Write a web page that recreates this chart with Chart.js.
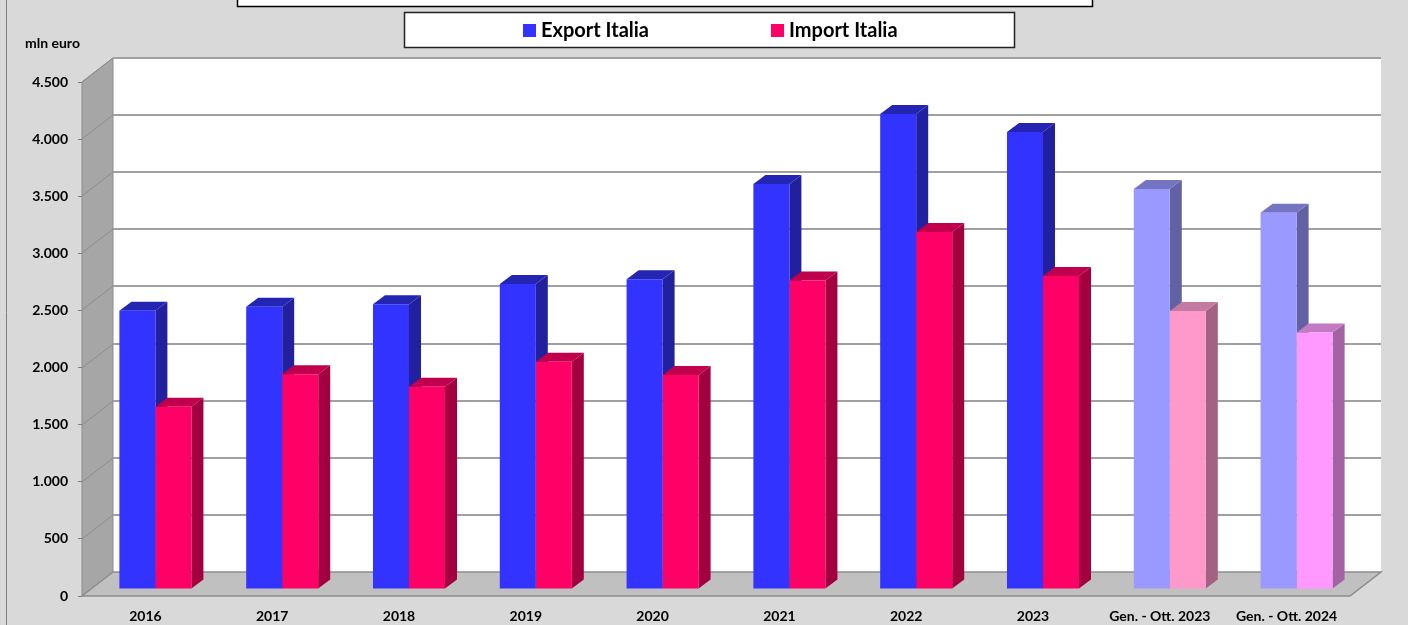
<!DOCTYPE html>
<html>
<head>
<meta charset="utf-8">
<script src="https://cdn.jsdelivr.net/npm/chart.js@4/dist/chart.umd.min.js"></script>
<style>
  html, body { margin: 0; padding: 0; background: #d9d9d9; }
  #wrap { width: 1408px; height: 625px; }
</style>
</head>
<body>
<div id="wrap"><canvas id="tradeChart" width="1408" height="625"></canvas></div>
<script>
// data (mln euro)
const categories = ["2016", "2017", "2018", "2019", "2020", "2021", "2022", "2023", "Gen. - Ott. 2023", "Gen. - Ott. 2024"];
const exportItalia = [2437, 2472, 2493, 2671, 2712, 3546, 4159, 4002, 3503, 3295];
const importItalia = [1596, 1880, 1771, 1990, 1874, 2700, 3126, 2741, 2434, 2245];
const yTickValues = [0, 500, 1000, 1500, 2000, 2500, 3000, 3500, 4000, 4500];
const unitLabel = "mln euro";

// colours: front / side / top
const exportFront = ["#3333ff", "#3333ff", "#3333ff", "#3333ff", "#3333ff", "#3333ff", "#3333ff", "#3333ff", "#9999ff", "#9999ff"];
const exportSide = ["#2121a0", "#2121a0", "#2121a0", "#2121a0", "#2121a0", "#2121a0", "#2121a0", "#2121a0", "#6161a3", "#6161a3"];
const exportTop = ["#2525b3", "#2525b3", "#2525b3", "#2525b3", "#2525b3", "#2525b3", "#2525b3", "#2525b3", "#7474c2", "#7474c2"];
const importFront = ["#ff0066", "#ff0066", "#ff0066", "#ff0066", "#ff0066", "#ff0066", "#ff0066", "#ff0066", "#ff99cc", "#ff99ff"];
const importSide = ["#a3003f", "#a3003f", "#a3003f", "#a3003f", "#a3003f", "#a3003f", "#a3003f", "#a3003f", "#a36282", "#a362a3"];
const importTop = ["#c0004d", "#c0004d", "#c0004d", "#c0004d", "#c0004d", "#c0004d", "#c0004d", "#c0004d", "#c27aa0", "#c27ac2"];

const WALL_DX = 31, WALL_DY = 24;   // depth of the 3d box
const BAR_DX = 10, BAR_DY = 7;      // bar front face offset
const BAR_DEPTH_X = 12, BAR_DEPTH_Y = 9;

Chart.defaults.font.family = "Lato, 'Open Sans', sans-serif";
Chart.defaults.color = "#000";

function fmt(v) {
    return String(v).replace(/\B(?=(\d{3})+(?!\d))/g, ".");
}

function poly(ctx, pts, fill, stroke, lw) {
    ctx.beginPath();
    ctx.moveTo(pts[0][0], pts[0][1]);
    for (let i = 1; i < pts.length; i++) ctx.lineTo(pts[i][0], pts[i][1]);
    ctx.closePath();
    if (fill) { ctx.fillStyle = fill; ctx.fill(); }
    if (stroke) { ctx.strokeStyle = stroke; ctx.lineWidth = lw || 1; ctx.stroke(); }
}

const frame3d = {
    id: "frame3d",
    beforeDraw(chart) {
        const { ctx, chartArea: a, scales: { y } } = chart;
        ctx.save();
        ctx.fillStyle = "#d9d9d9";
        ctx.fillRect(0, 0, chart.width, chart.height);

        // outer border on the left
        ctx.strokeStyle = "#7f7f7f";
        ctx.lineWidth = 1;
        ctx.beginPath();
        ctx.moveTo(6.5, 0);
        ctx.lineTo(6.5, chart.height);
        ctx.stroke();

        // back wall
        ctx.fillStyle = "#ffffff";
        ctx.fillRect(a.left + WALL_DX, a.top - WALL_DY, a.right - a.left, a.bottom - a.top);

        // left wall
        poly(ctx, [[a.left, a.top], [a.left + WALL_DX, a.top - WALL_DY], [a.left + WALL_DX, a.bottom - WALL_DY], [a.left, a.bottom]], "#a6a6a6", "#8c8c8c", 1);

        // gridlines on back wall and left wall
        yTickValues.forEach((v) => {
            if (v === 0) return;
            const py = Math.round(y.getPixelForValue(v));
            ctx.strokeStyle = "#a0a0a0";
            ctx.lineWidth = 2;
            ctx.beginPath();
            ctx.moveTo(a.left + WALL_DX, py - WALL_DY);
            ctx.lineTo(a.right + WALL_DX, py - WALL_DY);
            ctx.stroke();
            ctx.strokeStyle = "#8c8c8c";
            ctx.lineWidth = 1;
            ctx.beginPath();
            ctx.moveTo(a.left, py);
            ctx.lineTo(a.left + WALL_DX, py - WALL_DY);
            ctx.stroke();
        });

        // floor
        poly(ctx, [[a.left, a.bottom], [a.left + WALL_DX, a.bottom - WALL_DY], [a.right + WALL_DX, a.bottom - WALL_DY], [a.right, a.bottom]], "#c0c0c0", "#8c8c8c", 1.5);
        ctx.restore();
    },
    beforeDatasetsDraw(chart) {
        const { ctx } = chart;
        const sides = [exportSide, importSide];
        const tops = [exportTop, importTop];
        ctx.save();
        categories.forEach((c, j) => {
            chart.data.datasets.forEach((ds, i) => {
                const bar = chart.getDatasetMeta(i).data[j];
                const p = bar.getProps(["x", "y", "base", "width"], true);
                const l = p.x - p.width / 2 + BAR_DX;
                const r = p.x + p.width / 2 + BAR_DX;
                const t = p.y - BAR_DY;
                const b = p.base - BAR_DY;
                poly(ctx, [[r, t], [r + BAR_DEPTH_X, t - BAR_DEPTH_Y], [r + BAR_DEPTH_X, b - BAR_DEPTH_Y], [r, b]], sides[i][j]);
                poly(ctx, [[l, t], [l + BAR_DEPTH_X, t - BAR_DEPTH_Y], [r + BAR_DEPTH_X, t - BAR_DEPTH_Y], [r, t]], tops[i][j]);
            });
        });
        ctx.restore();
        // front faces are drawn by Chart.js, shifted into the box
        ctx.save();
        ctx.translate(BAR_DX, -BAR_DY);
    },
    afterDatasetsDraw(chart) {
        chart.ctx.restore();
    },
    afterDraw(chart) {
        const { ctx } = chart;
        ctx.save();

        // title box (cut off at the top)
        ctx.fillStyle = "#fff";
        ctx.fillRect(237.5, -10, 855, 16.5);
        ctx.strokeStyle = "#000";
        ctx.lineWidth = 1.5;
        ctx.strokeRect(237.5, -10, 855, 16.5);

        // legend box
        ctx.fillStyle = "#fff";
        ctx.fillRect(404.5, 12.5, 610, 35);
        ctx.strokeStyle = "#222";
        ctx.lineWidth = 1.5;
        ctx.strokeRect(404.5, 12.5, 610, 35);

        const legendX = [523, 771];
        ctx.font = "bold 20px Lato, 'Open Sans', sans-serif";
        ctx.textBaseline = "middle";
        ctx.textAlign = "left";
        chart.data.datasets.forEach((ds, i) => {
            ctx.fillStyle = ds.backgroundColor[0];
            ctx.fillRect(legendX[i], 24, 13, 13);
            ctx.fillStyle = "#000";
            ctx.fillText(ds.label, legendX[i] + 18, 31);
        });

        // unit label
        ctx.font = "bold 14px Lato, 'Open Sans', sans-serif";
        ctx.fillText(unitLabel, 25, 43);
        ctx.restore();
    }
};

const ctx = document.getElementById("tradeChart");

new Chart(ctx, {
    type: "bar",
    data: {
        labels: categories,
        datasets: [
            {
                label: "Export Italia",
                data: exportItalia,
                backgroundColor: exportFront,
                borderWidth: 0,
            },
            {
                label: "Import Italia",
                data: importItalia,
                backgroundColor: importFront,
                borderWidth: 0,
            },
        ],
    },
    options: {
        responsive: false,
        animation: false,
        layout: {
            padding: { top: 82, right: 58, left: 0, bottom: 0 },
        },
        datasets: {
            bar: {
                barPercentage: 1,
                categoryPercentage: 0.568,
            },
        },
        plugins: {
            legend: { display: false },
            tooltip: { enabled: false },
        },
        scales: {
            x: {
                grid: { display: false },
                border: { display: false },
                ticks: {
                    autoSkip: false,
                    maxRotation: 0,
                    padding: 4,
                    font: { size: 14, weight: "bold" },
                },
                afterFit: (scale) => { scale.height = 29; },
            },
            y: {
                min: 0,
                max: 4500,
                afterBuildTicks: (scale) => {
                    scale.ticks = yTickValues.map((v) => ({ value: v }));
                },
                grid: {
                    drawOnChartArea: false,
                    tickLength: 4,
                    color: "#7f7f7f",
                },
                border: { display: false },
                ticks: {
                    padding: 10,
                    font: { size: 14, weight: "bold" },
                    callback: (v) => fmt(v),
                },
                afterFit: (scale) => { scale.width = 82; },
            },
        },
    },
    plugins: [frame3d],
});
</script>
</body>
</html>
